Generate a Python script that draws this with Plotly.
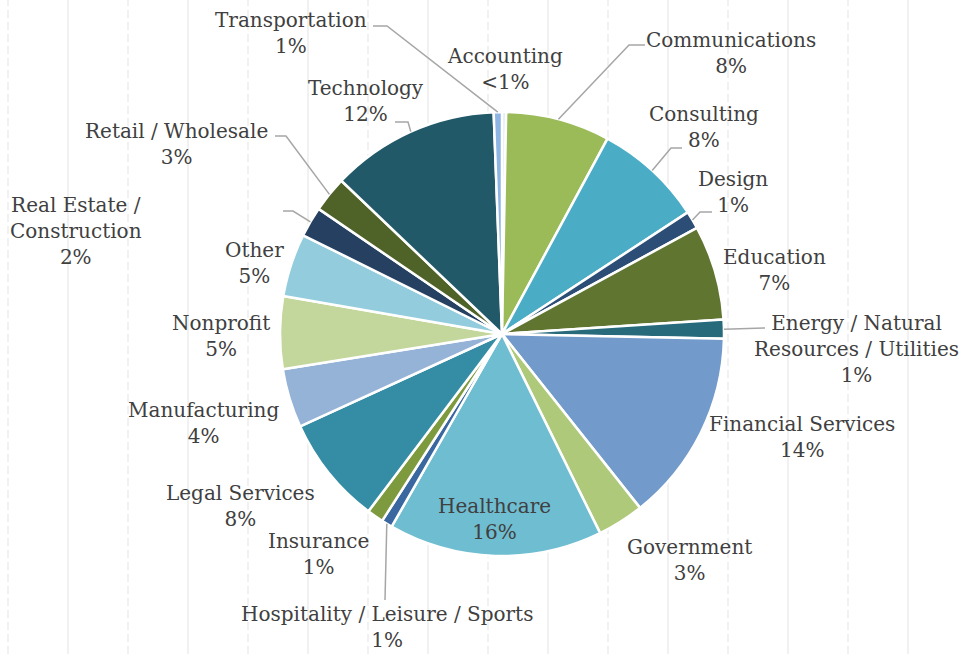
import math
import plotly.graph_objects as go

# ---------------- data ----------------
categories = ["Accounting", "Communications", "Consulting", "Design", "Education",
              "Energy / Natural Resources / Utilities", "Financial Services", "Government",
              "Healthcare", "Hospitality / Leisure / Sports", "Insurance", "Legal Services",
              "Manufacturing", "Nonprofit", "Other", "Real Estate / Construction",
              "Retail / Wholesale", "Technology", "Transportation"]
values = [0.3, 7.6, 7.9, 1.3, 6.9, 1.4, 14.0, 3.4, 15.6, 0.8, 1.2, 7.9, 4.3, 5.3, 4.6,
          2.2, 2.6, 12.3, 0.6]
pct_labels = ["<1%", "8%", "8%", "1%", "7%", "1%", "14%", "3%", "16%", "1%", "1%", "8%",
              "4%", "5%", "5%", "2%", "3%", "12%", "1%"]
display_names = ["Accounting", "Communications", "Consulting", "Design", "Education",
                 "Energy / Natural<br>Resources / Utilities", "Financial Services", "Government",
                 "Healthcare", "Hospitality / Leisure / Sports", "Insurance", "Legal Services",
                 "Manufacturing", "Nonprofit", "Other", "Real Estate /<br>Construction",
                 "Retail / Wholesale", "Technology", "Transportation"]

colors = ["#dce6f2", "#9bbb59", "#4bacc6", "#2c4d75", "#5f7530", "#276a7c", "#729aca",
          "#afc97a", "#6fbdd1", "#3a67a0", "#7e9a3f", "#358ca5", "#95b3d7", "#c3d69b",
          "#93cddd", "#254061", "#4f6228", "#215968", "#8eb4e3"]

# ---------------- layout geometry (pixels) ----------------
W, H = 963, 654
CX, CY, R = 502, 334, 222

def px(x):
    return x / W

def py(y):
    return 1 - y / H

# label block centres (px)
label_pos = {
    "Accounting": (505, 69), "Communications": (731, 53), "Consulting": (704, 127),
    "Design": (733, 192), "Education": (774, 270),
    "Energy / Natural Resources / Utilities": (856, 349),
    "Financial Services": (802, 437), "Government": (689, 560), "Healthcare": (495, 519),
    "Hospitality / Leisure / Sports": (387, 627), "Insurance": (318, 554),
    "Legal Services": (240, 506), "Manufacturing": (203, 423), "Nonprofit": (221, 336),
    "Other": (254, 263), "Real Estate / Construction": (76, 231),
    "Retail / Wholesale": (176, 144), "Technology": (366, 101), "Transportation": (291, 33),
}
# leader lines: start near label, optional elbow, then to slice edge
leaders = {
    "Transportation": [(373, 26), (387, 26)],
    "Communications": [(645, 45), (629, 45)],
    "Consulting": [(682, 148), (671, 148)],
    "Design": [(712, 212), (700, 212)],
    "Energy / Natural Resources / Utilities": [(765, 328)],
    "Hospitality / Leisure / Sports": [(385, 600)],
    "Technology": [(395, 122), (408, 122)],
    "Retail / Wholesale": [(275, 136), (286, 136)],
    "Real Estate / Construction": [(283, 211), (293, 211)],
}

fig = go.Figure()
fig.add_trace(go.Pie(
    labels=categories, values=values, sort=False, direction="clockwise", rotation=0,
    marker=dict(colors=colors, line=dict(color="white", width=2.5)),
    textinfo="none", hoverinfo="label+percent", showlegend=False,
    domain=dict(x=[px(CX - R), px(CX + R)], y=[py(CY + R), py(CY - R)]),
))

shapes = []
# background vertical gridlines
for k, gx in enumerate(range(8, W, 60)):
    shapes.append(dict(type="line", xref="paper", yref="paper", x0=px(gx), x1=px(gx),
                       y0=0, y1=1, layer="below",
                       line=dict(color="#ededed", width=1.5,
                                 dash="8px,4px" if k % 2 == 0 else "solid")))

# slice mid-angles from data
total = sum(values)
cum = 0
mid_angle = {}
for c, v in zip(categories, values):
    mid_angle[c] = (cum + v / 2) / total * 2 * math.pi
    cum += v

for name, pts in leaders.items():
    a = mid_angle[name]
    ex, ey = CX + R * math.sin(a), CY - R * math.cos(a)
    allp = pts + [(ex, ey)]
    path = "M " + " L ".join(f"{px(x):.5f},{py(y):.5f}" for x, y in allp)
    shapes.append(dict(type="path", xref="paper", yref="paper", path=path,
                       line=dict(color="#a6a6a6", width=1.5)))

annotations = []
for c, dn, pl in zip(categories, display_names, pct_labels):
    x, y = label_pos[c]
    annotations.append(dict(x=px(x), y=py(y), xref="paper", yref="paper",
                            text=f"{dn}<br>{pl}", showarrow=False,
                            xanchor="center", yanchor="middle", align="center",
                            font=dict(family="DejaVu Serif", size=20, color="#404040")))

fig.update_layout(width=W, height=H, margin=dict(l=0, r=0, t=0, b=0),
                  paper_bgcolor="white", plot_bgcolor="white",
                  shapes=shapes, annotations=annotations)
fig.write_html("out.html", config={"displayModeBar": False},
               post_script="document.body.style.margin='0';document.body.style.padding='0';")
